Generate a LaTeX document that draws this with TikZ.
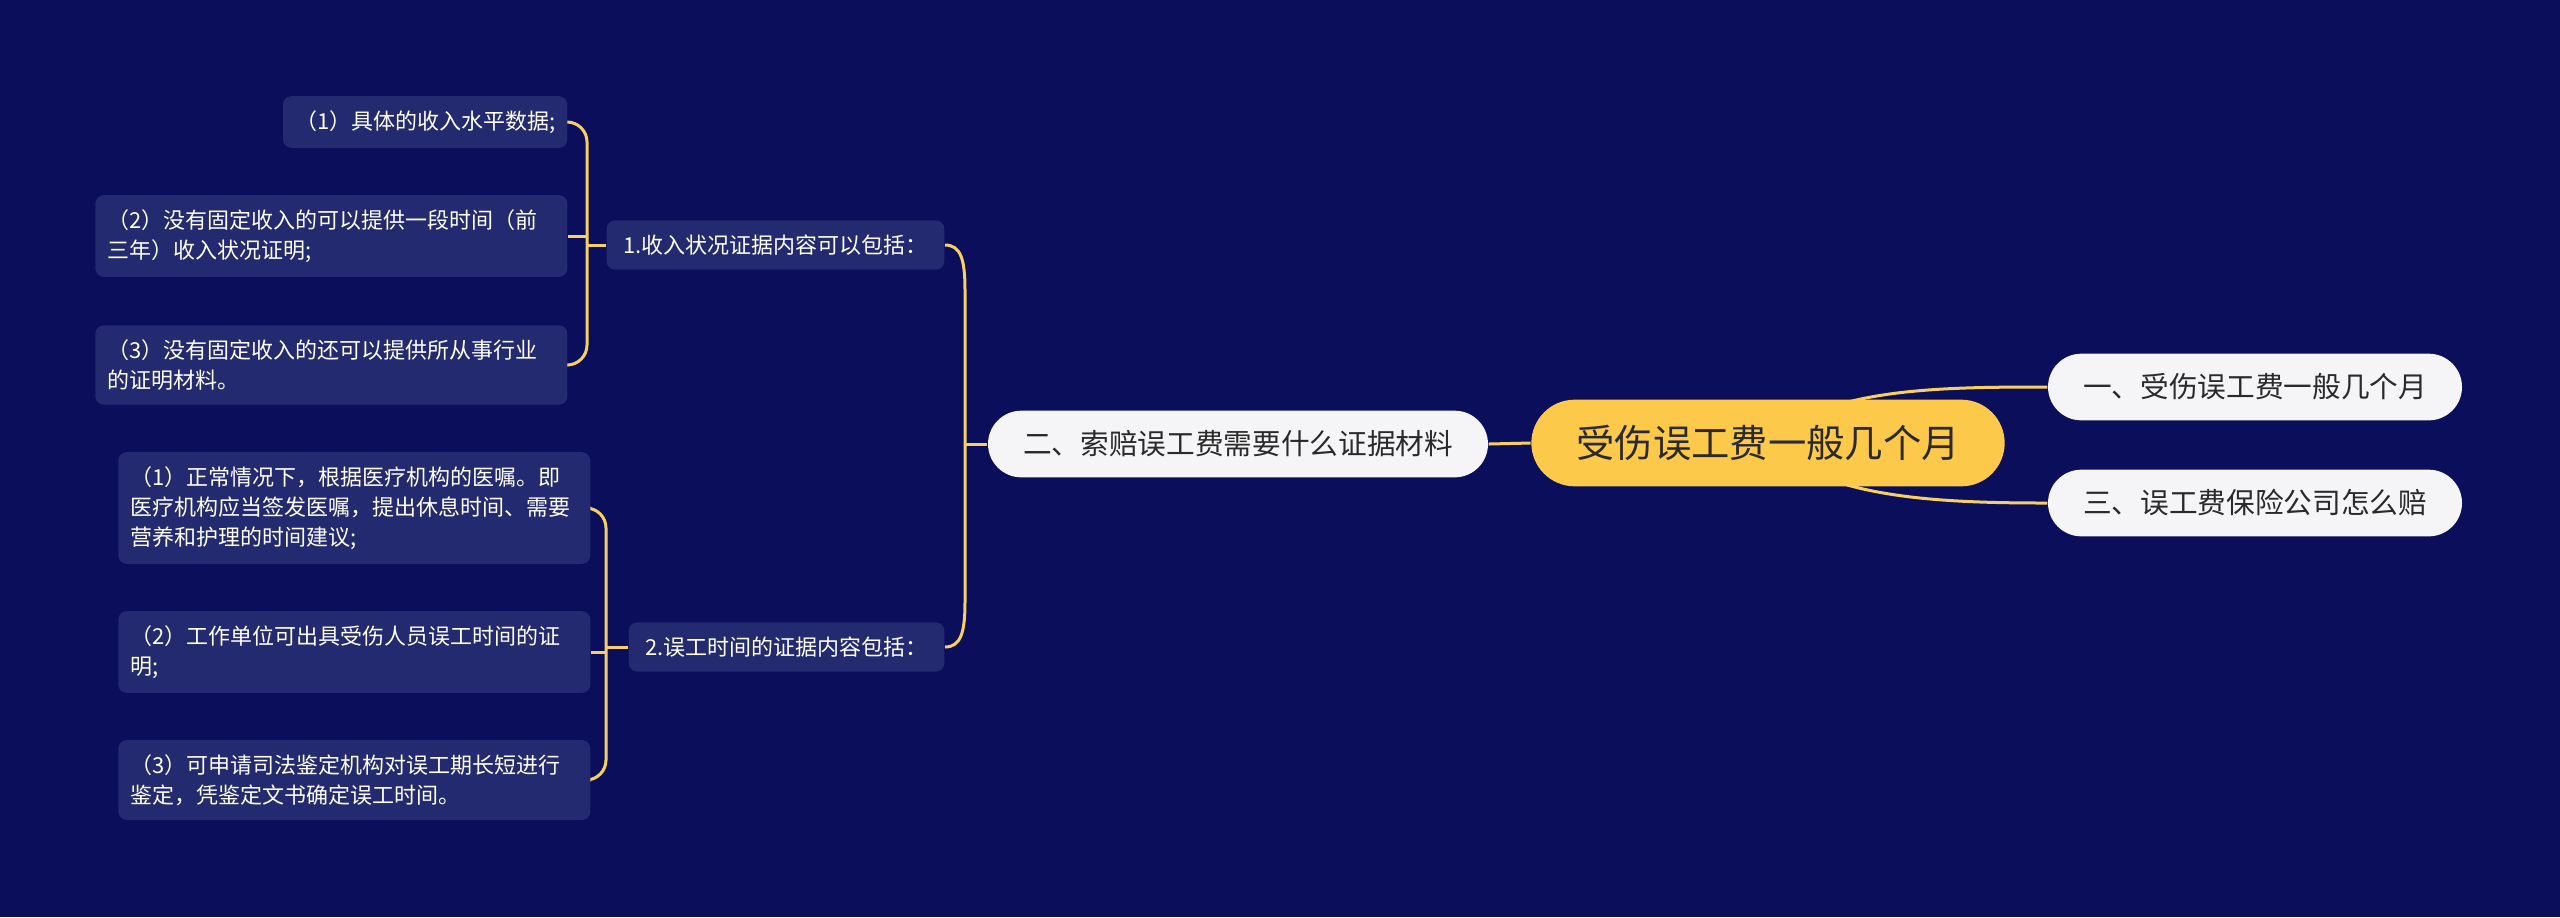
\documentclass[tikz,border=0pt]{standalone}
\usepackage{fontspec}
\setmainfont{Noto Sans CJK SC}
\usetikzlibrary{calc}
\definecolor{bgnavy}{HTML}{0A0E5B}
\definecolor{leafnavy}{HTML}{232A6F}
\definecolor{linkyellow}{HTML}{F9CF5E}
\definecolor{rootyellow}{HTML}{FDC94B}
\definecolor{topicwhite}{HTML}{F5F5F7}
\definecolor{darktext}{HTML}{2A2A2A}
\pgfdeclarelayer{back}
\pgfdeclarelayer{links}
\pgfsetlayers{back,links,main}

\begin{document}
\begin{tikzpicture}[x=0.3pt,y=-0.3pt,
    leafbox/.style={fill=leafnavy,rounded corners=2.5pt,text=white,
        font=\fontsize{6.6}{9}\selectfont,align=left,inner xsep=3.6pt,inner ysep=4.3pt},
    leafwide/.style={leafbox,text width=134.4pt},
    subbox/.style={leafbox,inner xsep=5pt},
    topic/.style={fill=topicwhite,rounded corners=10pt,text=darktext,
        font=\fontsize{8.6}{10}\selectfont,inner xsep=10.5pt,minimum height=20pt},
    rootbox/.style={fill=rootyellow,rounded corners=13pt,text=darktext,
        font=\fontsize{11.5}{13}\selectfont,inner xsep=13.5pt,minimum height=26pt},
    link/.style={draw=linkyellow,line width=0.9pt}]
            \useasboundingbox (0,0) rectangle (2560,917);
            \begin{pgfonlayer}{back}
                \fill[bgnavy] (0,0) rectangle (2560,917);
            \end{pgfonlayer}
            % centre and first branches
            \node[rootbox] (root) at (1768,443) {受伤误工费一般几个月};
            \node[topic] (topicA) at (2255,387) {一、受伤误工费一般几个月};
            \node[topic] (topicB) at (1238,444) {二、索赔误工费需要什么证据材料};
            \node[topic] (topicC) at (2255,503) {三、误工费保险公司怎么赔};
            \node[subbox,anchor=east] (incomeEv) at (945,245) {1.收入状况证据内容可以包括：};
            \node[subbox,anchor=east] (timeEv) at (945,647) {2.误工时间的证据内容包括：};
            % leaves
            \node[leafbox,anchor=east] (incomeA) at (568,122) {（1）具体的收入水平数据;};
            \node[leafwide,anchor=east] (incomeB) at (568,236) {（2）没有固定收入的可以提供一段时间（前\\三年）收入状况证明;};
            \node[leafwide,anchor=east] (incomeC) at (568,365) {（3）没有固定收入的还可以提供所从事行业\\的证明材料。};
            \node[leafwide,anchor=east] (timeA) at (591,508) {（1）正常情况下，根据医疗机构的医嘱。即\\医疗机构应当签发医嘱，提出休息时间、需要\\营养和护理的时间建议;};
            \node[leafwide,anchor=east] (timeB) at (591,652) {（2）工作单位可出具受伤人员误工时间的证\\明;};
            \node[leafwide,anchor=east] (timeC) at (591,780) {（3）可申请司法鉴定机构对误工期长短进行\\鉴定，凭鉴定文书确定误工时间。};
            \begin{pgfonlayer}{links}
                \draw[link] (root.center) .. controls +(55,-55) and +(-110,0) .. (topicA.west);
                \draw[link] (root.center) .. controls +(55,55) and +(-110,0) .. (topicC.west);
                \draw[link] (root.west) -- (topicB.east);
                \coordinate (bigJoin) at ($(topicB.west)+(-21,0)$);
                \draw[link] (topicB.west) -- (bigJoin);
                \draw[link] (incomeEv.east) .. controls +(16,0) and +(0,-30) .. ($(incomeEv.east)+(20,45)$)
                    -- ($(timeEv.east)+(20,-45)$) .. controls +(0,30) and +(16,0) .. (timeEv.east);
                \coordinate (incomeJoin) at ($(incomeEv.west)+(-19,0)$);
                \draw[link] (incomeEv.west) -- (incomeJoin);
                \draw[link,rounded corners=6pt] (incomeA.east) -| (incomeJoin) |- (incomeC.east);
                \draw[link] (incomeB.east) -- (incomeB.east -| incomeJoin);
                \coordinate (timeJoin) at ($(timeEv.west)+(-22,0)$);
                \draw[link] (timeEv.west) -- (timeJoin);
                \draw[link,rounded corners=6pt] (timeA.east) -| (timeJoin) |- (timeC.east);
                \draw[link] (timeB.east) -- (timeB.east -| timeJoin);
            \end{pgfonlayer}
        \end{tikzpicture}
\end{document}
